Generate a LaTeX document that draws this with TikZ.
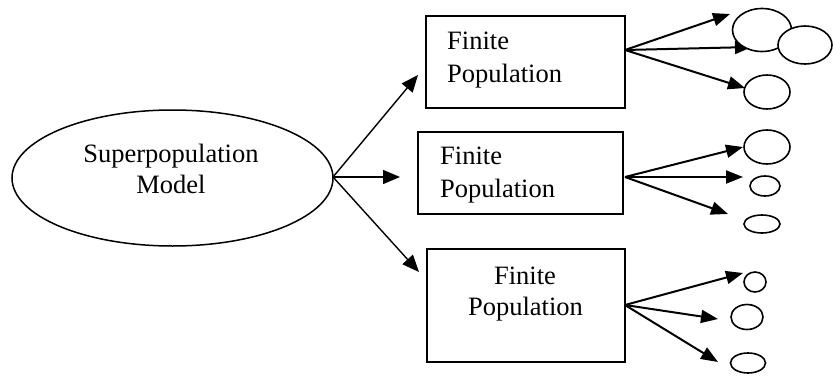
\documentclass[tikz,border=0pt]{standalone}
\usepackage{fontspec}
\setmainfont{Liberation Serif}
\usetikzlibrary{shapes.geometric,arrows.meta}
\begin{document}
\begin{tikzpicture}[x=1pt,y=-1pt,
  txt/.style={inner sep=0pt,font=\fontsize{26.5}{30}\selectfont},
  boxnode/.style={draw,line width=2pt,rectangle,inner sep=0pt},
  bigell/.style={draw,line width=1.5pt,ellipse,inner sep=0pt},
  smallell/.style={draw,line width=1.6pt,ellipse,inner sep=0pt,fill=white},
  thinarrow/.style={line width=1.4pt,-{Triangle[length=17pt,width=14pt]}},
  thickarrow/.style={line width=2pt,-{Triangle[length=17pt,width=13pt]}}]
\useasboundingbox (0,0) rectangle (833,375);
% main ellipse
\node[bigell,minimum width=321pt,minimum height=136pt] (sp) at (172.5,178) {};
\node[txt,anchor=base] (spt1) at (171,162) {Superpopulation};
\node[txt,anchor=base] (spt2) at (171,193) {Model};
% boxes
\node[boxnode,minimum width=199pt,minimum height=92pt] (b1) at (525.5,62) {};
\node[boxnode,minimum width=205pt,minimum height=82pt] (b2) at (520.5,173) {};
\node[boxnode,minimum width=198pt,minimum height=113pt] (b3) at (526,305.5) {};
\node[txt,anchor=base west] (f1) at (447,49) {Finite};
\node[txt,anchor=base west] (p1) at (447,82) {Population};
\node[txt,anchor=base west] (f2) at (440,164) {Finite};
\node[txt,anchor=base west] (p2) at (440,197) {Population};
\node[txt,anchor=base] (f3) at (525,284) {Finite};
\node[txt,anchor=base] (p3) at (525.5,315) {Population};
% arrows from main ellipse
\coordinate (m0) at (333,177);
\coordinate (m1) at (418,75);
\coordinate (m2) at (400,177);
\coordinate (m3) at (419,272);
\draw[thinarrow] (m0) -- (m1);
\draw[thinarrow] (m0) -- (m2);
\draw[thinarrow] (m0) -- (m3);
% branch origins and tips
\coordinate (o1) at (625,50);
\coordinate (o2) at (625,177);
\coordinate (o3) at (625,305);
\coordinate (t11) at (730,14);
\coordinate (t12) at (752,47);
\coordinate (t13) at (745,88);
\coordinate (t21) at (743,147);
\coordinate (t22) at (743,177);
\coordinate (t23) at (728,214);
\coordinate (t31) at (743,273);
\coordinate (t32) at (718,319);
\coordinate (t33) at (718,362);
\draw[thickarrow] (o1) -- (t11);
\draw[thickarrow] (o1) -- (t12);
\draw[thickarrow] (o1) -- (t13);
\draw[thickarrow] (o2) -- (t21);
\draw[thickarrow] (o2) -- (t22);
\draw[thickarrow] (o2) -- (t23);
\draw[thickarrow] (o3) -- (t31);
\draw[thickarrow] (o3) -- (t32);
\draw[thickarrow] (o3) -- (t33);
% small ellipses
\node[smallell,minimum width=59pt,minimum height=43pt] (sa) at (762,30) {};
\node[smallell,minimum width=54pt,minimum height=38pt] (sb) at (805,45) {};
\node[smallell,minimum width=46pt,minimum height=34pt] (sc) at (767,92) {};
\node[smallell,minimum width=46pt,minimum height=34pt] (se1) at (767,147) {};
\node[smallell,minimum width=30pt,minimum height=20pt] (se2) at (765,186) {};
\node[smallell,minimum width=36pt,minimum height=18pt] (se3) at (762,224) {};
\node[smallell,minimum width=22pt,minimum height=20pt] (sf1) at (755,282) {};
\node[smallell,minimum width=32pt,minimum height=25pt] (sf2) at (747,317) {};
\node[smallell,minimum width=35pt,minimum height=20pt] (sf3) at (748,363) {};
\end{tikzpicture}
\end{document}
